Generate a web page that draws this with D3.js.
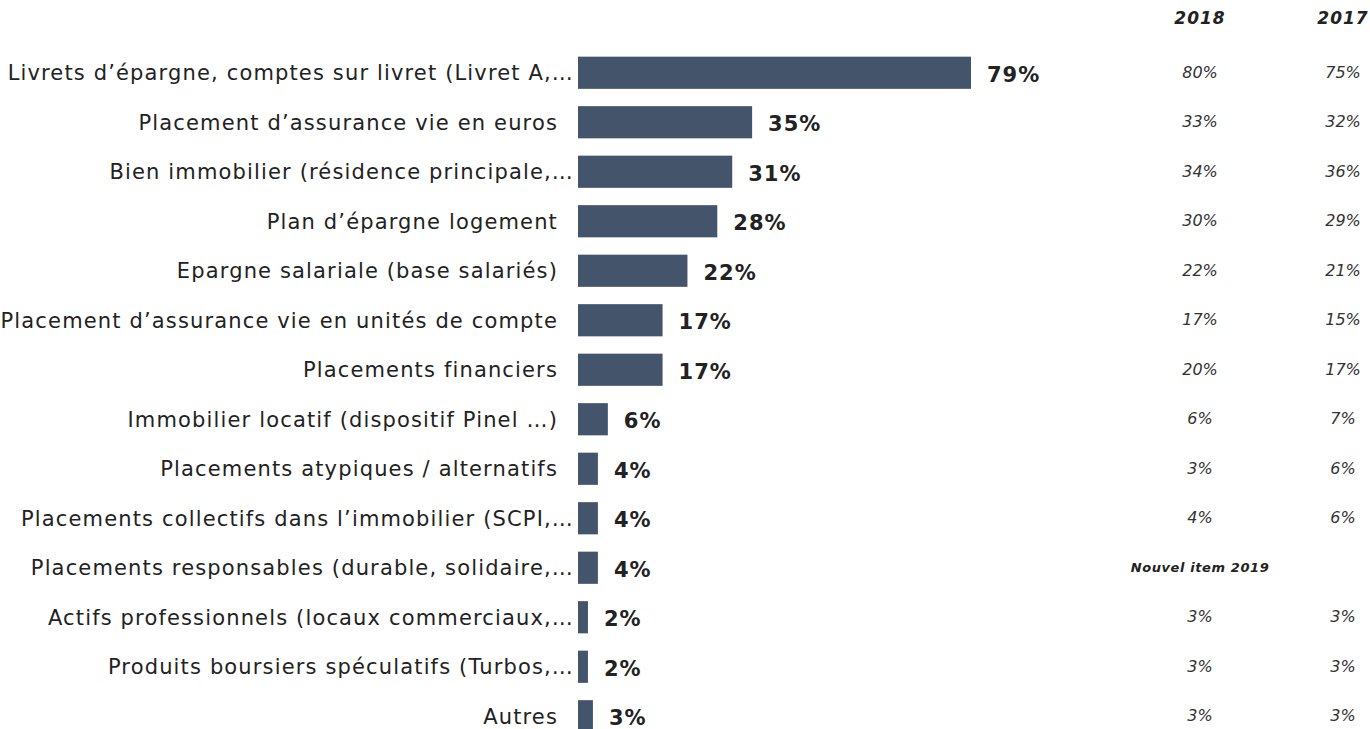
<!DOCTYPE html>
<html>
<head>
<meta charset="utf-8">
<script src="https://cdn.jsdelivr.net/npm/d3@7"></script>
<style>
  body { margin: 0; background: #fff; }
  text { font-family: "DejaVu Sans", sans-serif; }
</style>
</head>
<body>
<div id="grafico"></div>
<script>
const categories = [
  "Livrets d’épargne, comptes sur livret (Livret A,…",
  "Placement d’assurance vie en euros",
  "Bien immobilier (résidence principale,…",
  "Plan d’épargne logement",
  "Epargne salariale (base salariés)",
  "Placement d’assurance vie en unités de compte",
  "Placements financiers",
  "Immobilier locatif (dispositif Pinel …)",
  "Placements atypiques / alternatifs",
  "Placements collectifs dans l’immobilier (SCPI,…",
  "Placements responsables (durable, solidaire,…",
  "Actifs professionnels (locaux commerciaux,…",
  "Produits boursiers spéculatifs (Turbos,…",
  "Autres",
];
const values2019 = [79, 35, 31, 28, 22, 17, 17, 6, 4, 4, 4, 2, 2, 3];
const values2018 = [80, 33, 34, 30, 22, 17, 20, 6, 3, 4, null, 3, 3, 3];
const values2017 = [75, 32, 36, 29, 21, 15, 17, 7, 6, 6, null, 3, 3, 3];
const columns = ["2018", "2017"];
const newItemLabel = "Nouvel item 2019";

const width = 1370;
const height = 729;

const data = categories.map((c, i) => ({
  cat: c,
  v: values2019[i],
  "2018": values2018[i],
  "2017": values2017[i],
}));

const svg = d3
  .select("#grafico")
  .append("svg")
  .attr("width", width)
  .attr("height", height);

const y = d3
  .scaleBand()
  .domain(categories)
  .range([48, 741])
  .paddingInner(0.35)
  .paddingOuter(0.175);

const x = d3.scaleLinear().domain([0, 79]).range([578, 971]);

const colX = d3.scalePoint().domain(columns).range([1200, 1343]);

// barres
svg
  .append("g")
  .selectAll("rect")
  .data(data)
  .join("rect")
  .attr("x", x(0))
  .attr("y", (d) => y(d.cat))
  .attr("width", (d) => x(d.v) - x(0))
  .attr("height", y.bandwidth())
  .attr("fill", "#44546A");

// libellés des catégories
svg
  .append("g")
  .selectAll("text")
  .data(data)
  .join("text")
  .attr("x", x(0) - 4)
  .attr("dx", (d) => (d.cat.endsWith("…") ? 0 : -16))
  .attr("y", (d) => y(d.cat) + y.bandwidth() / 2)
  .attr("dy", "0.36em")
  .attr("text-anchor", "end")
  .attr("fill", "#222")
  .style("font-size", "21px")
  .style("letter-spacing", "1.15px")
  .text((d) => d.cat);

// valeurs
svg
  .append("g")
  .selectAll("text")
  .data(data)
  .join("text")
  .attr("x", (d) => x(d.v) + 16)
  .attr("y", (d) => y(d.cat) + y.bandwidth() / 2)
  .attr("dy", "0.42em")
  .attr("fill", "#222")
  .style("font-size", "21px")
  .style("font-weight", "bold")
  .style("letter-spacing", "1px")
  .text((d) => d.v + "%");

// en-têtes des colonnes
svg
  .append("g")
  .selectAll("text")
  .data(columns)
  .join("text")
  .attr("x", (c) => colX(c))
  .attr("y", 24)
  .attr("text-anchor", "middle")
  .attr("fill", "#222")
  .style("font-size", "17px")
  .style("font-weight", "bold")
  .style("font-style", "italic")
  .style("letter-spacing", "1px")
  .text((c) => c);

// valeurs 2018 / 2017
const cols = svg.append("g");
columns.forEach((c) => {
  cols
    .append("g")
    .selectAll("text")
    .data(data.filter((d) => d[c] != null))
    .join("text")
    .attr("x", colX(c))
    .attr("y", (d) => y(d.cat) + y.bandwidth() / 2)
    .attr("dy", "0.3em")
    .attr("text-anchor", "middle")
    .attr("fill", "#333")
    .style("font-size", "16px")
    .style("font-style", "italic")
    .text((d) => d[c] + "%");
});

// nouvel item
svg
  .append("g")
  .selectAll("text")
  .data(data.filter((d) => d["2018"] == null))
  .join("text")
  .attr("x", colX("2018"))
  .attr("y", (d) => y(d.cat) + y.bandwidth() / 2)
  .attr("dy", "0.3em")
  .attr("text-anchor", "middle")
  .attr("fill", "#222")
  .style("font-size", "13px")
  .style("font-weight", "bold")
  .style("font-style", "italic")
  .style("letter-spacing", "0.6px")
  .text(newItemLabel);
</script>
</body>
</html>
